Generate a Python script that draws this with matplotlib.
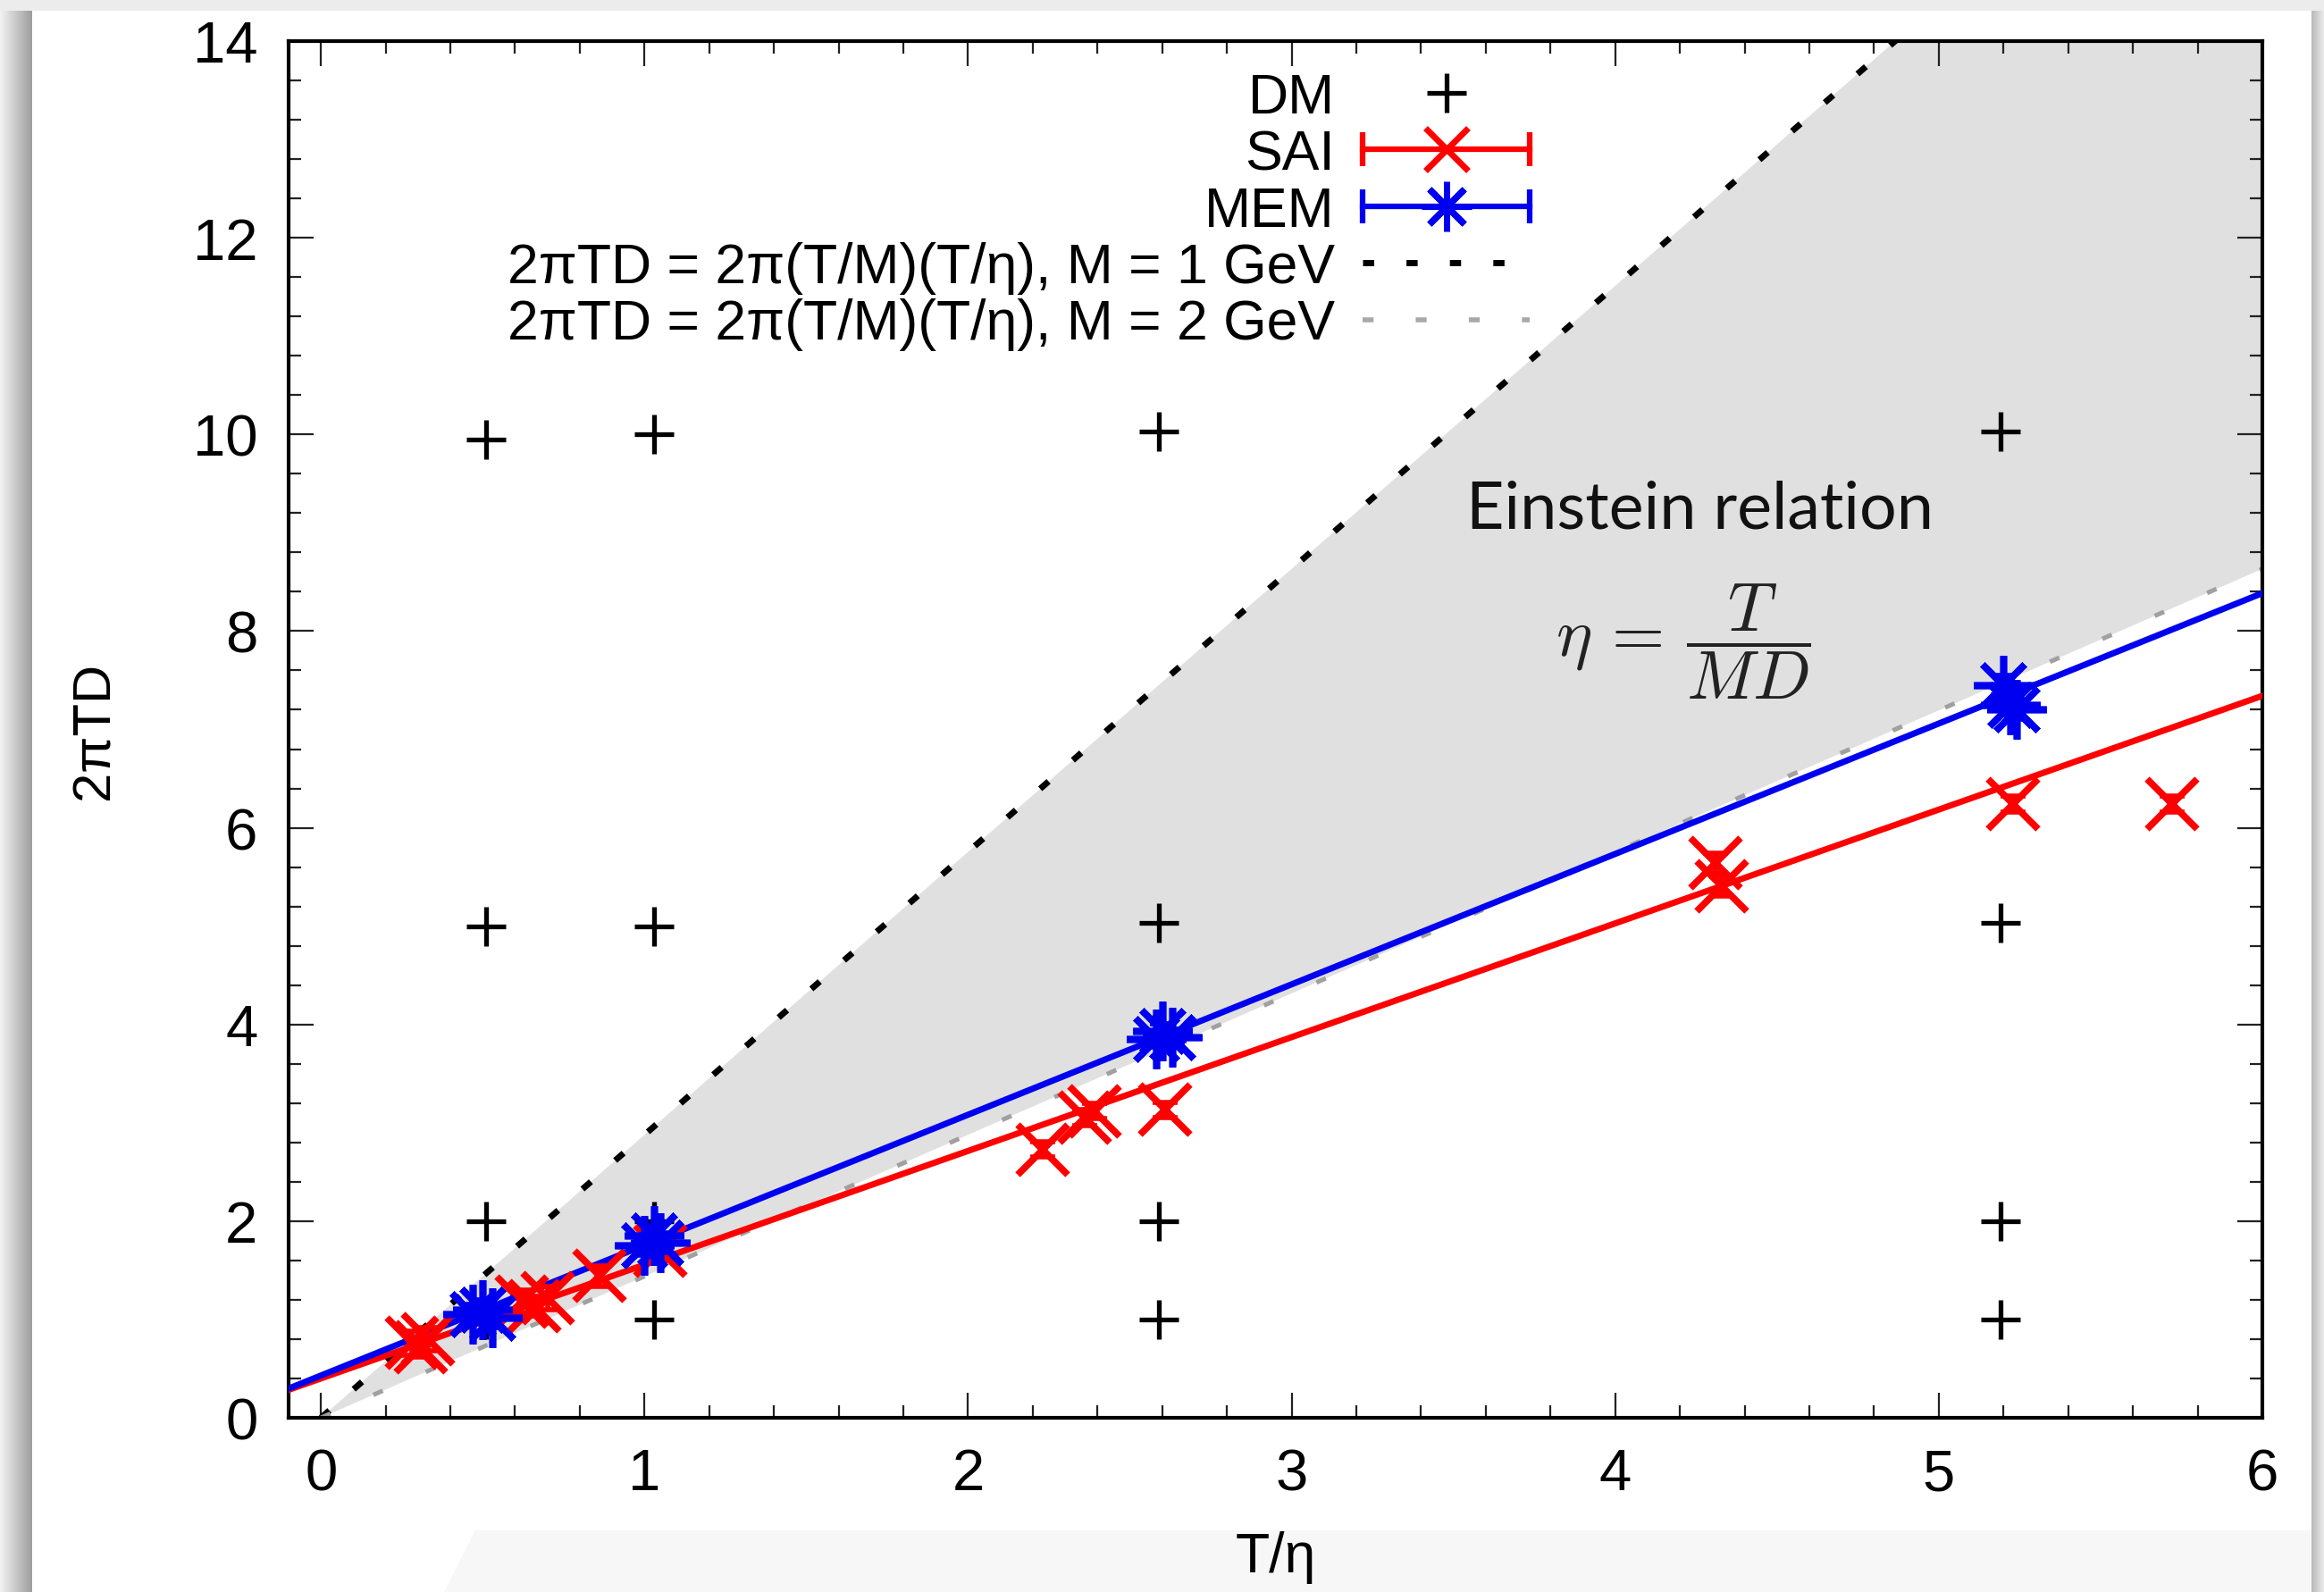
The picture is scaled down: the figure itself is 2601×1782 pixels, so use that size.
import numpy as np
import matplotlib
matplotlib.use("Agg")
import matplotlib.pyplot as plt
from matplotlib.lines import Line2D
from matplotlib.legend_handler import HandlerLine2D, HandlerTuple
from matplotlib.ticker import MultipleLocator
from matplotlib.patches import Rectangle, Polygon

plt.rcParams['font.family'] = ['Liberation Sans', 'DejaVu Sans']
plt.rcParams['mathtext.fontset'] = 'cm'

# ---------------- data ----------------
dm_x = [0.51, 1.03, 2.59, 5.19,
        0.51, 1.03, 2.59, 5.19,
        0.51, 1.03, 2.59, 5.19,
        0.51, 1.03, 2.59, 5.19]
dm_y = [9.95, 10.0, 10.03, 10.03,
        5.0, 5.0, 5.03, 5.03,
        2.0, 2.0, 2.0, 2.0,
        1.0, 1.0, 1.0, 1.0]

sai_x = [0.28, 0.31, 0.33, 0.62, 0.66, 0.70, 0.86, 1.05,
         2.23, 2.36, 2.39, 2.61, 4.31, 4.33, 5.23, 5.72]
sai_y = [0.76, 0.72, 0.80, 1.18, 1.14, 1.22, 1.44, 1.70,
         2.73, 3.05, 3.12, 3.13, 5.64, 5.41, 6.24, 6.24]
sai_err = [0.12, 0.10, 0.12, 0.12, 0.10, 0.12, 0.10, 0.10,
           0.08, 0.08, 0.08, 0.08, 0.10, 0.10, 0.08, 0.08]

mem_x = [0.47, 0.50, 0.53, 1.00, 1.03, 1.05,
         2.58, 2.60, 2.63, 5.20, 5.22, 5.24]
mem_y = [1.05, 1.10, 1.02, 1.75, 1.85, 1.78,
         3.85, 3.93, 3.87, 7.45, 7.25, 7.20]
mem_err = [0.10, 0.10, 0.10, 0.10, 0.10, 0.10,
           0.08, 0.08, 0.08, 0.10, 0.10, 0.10]

# linear fits (intercept, slope)
sai_fit = (0.40, 1.157)
mem_fit = (0.43, 1.326)

# Einstein relation: 2piTD = 2pi (T/M)(T/eta)
T_GeV = 0.458
M_GeV = [1.0, 2.0]

x_ticks = [0, 1, 2, 3, 4, 5, 6]
y_ticks = [0, 2, 4, 6, 8, 10, 12, 14]

legend_labels = ['DM', 'SAI', 'MEM',
                 r'2πTD = 2π(T/M)(T/η), M = 1 GeV',
                 r'2πTD = 2π(T/M)(T/η), M = 2 GeV']

# ---------------- figure ----------------
W, H = 2601, 1783
fig = plt.figure(figsize=(W / 100, H / 100), dpi=100)
fig.patch.set_facecolor('#ececec')

# white "card" with shadow edges
fig.patches.append(Rectangle((36 / W, 0), (2587 - 36) / W, 1 - 13 / H,
                             transform=fig.transFigure, facecolor='white',
                             edgecolor='none', zorder=-10))
fig.patches.append(Polygon([(497 / W, 0), (532 / W, 1 - 1714 / H),
                            (2587 / W, 1 - 1714 / H), (2587 / W, 0)],
                           closed=True, transform=fig.transFigure,
                           facecolor='#f7f7f7', edgecolor='none', zorder=-9))
sh = fig.add_axes([0, 0, 36 / W, 1 - 13 / H])
sh.imshow(np.linspace(0.95, 0.62, 50)[None, :], cmap='gray', vmin=0, vmax=1,
          aspect='auto', interpolation='bicubic')
sh.axis('off')
sh2 = fig.add_axes([2587 / W, 0, 14 / W, 1 - 13 / H])
sh2.imshow(np.linspace(0.72, 0.92, 20)[None, :], cmap='gray', vmin=0, vmax=1,
           aspect='auto', interpolation='bicubic')
sh2.axis('off')

ax = fig.add_axes([323 / W, 1 - 1588 / H, (2532 - 323) / W, (1588 - 47) / H])
ax.set_zorder(5)
ax.set_xlim(-0.1, 6)
ax.set_ylim(0, 14)

# shaded region between the two Einstein-relation lines
xs = np.linspace(0, 6, 200)
y_m1 = 2 * np.pi * (T_GeV / M_GeV[0]) * xs
y_m2 = 2 * np.pi * (T_GeV / M_GeV[1]) * xs
ax.fill_between(xs, y_m2, y_m1, color='#e0e0e0', lw=0, zorder=1)

# fits
xf = np.array([-0.1, 6.0])
ax.plot(xf, sai_fit[0] + sai_fit[1] * xf, color='#ff0000', lw=5.0, zorder=3)
ax.plot(xf, mem_fit[0] + mem_fit[1] * xf, color='#0000f0', lw=5.0, zorder=4)

# Einstein lines
ax.plot(xs, y_m1, color='black', lw=5.0, ls=(0, (1.8, 5.2)), zorder=2)
ax.plot(xs, y_m2, color='#a0a0a0', lw=3.6, ls=(0, (2.3, 10.5)), zorder=2)

# data
ax.plot(dm_x, dm_y, ls='none', marker='+', color='black', ms=31, mew=3.8, zorder=5)
ax.errorbar(sai_x, sai_y, yerr=sai_err, fmt='none', ecolor='#ff0000',
            elinewidth=4, capsize=10, capthick=4, zorder=6)
ax.plot(sai_x, sai_y, ls='none', marker='x', color='#ff0000', ms=40, mew=5.5, zorder=6)
ax.errorbar(mem_x, mem_y, yerr=mem_err, fmt='none', ecolor='#0000f0',
            elinewidth=4, capsize=10, capthick=4, zorder=7)
ax.plot(mem_x, mem_y, ls='none', marker=(8, 2, 0), color='#0000f0', ms=48, mew=5.5, zorder=7)

# annotations
ax.text(3.54, 9.05, 'Einstein relation', family=['Lato', 'DejaVu Sans'],
        fontsize=53, ha='left', va='baseline', color='#111111', zorder=8)
ax.text(4.21, 7.90, r'$\eta\,=\,\dfrac{T}{MD}$', fontsize=55, ha='center',
        va='center', color='#222222', zorder=8)

# axes styling
for s in ax.spines.values():
    s.set_linewidth(3.0)
ax.set_xticks(x_ticks)
ax.set_yticks(y_ticks)
ax.xaxis.set_minor_locator(MultipleLocator(0.2))
ax.yaxis.set_minor_locator(MultipleLocator(0.4))
ax.tick_params(which='both', direction='in', top=True, right=True, width=1.6,
               color='#222222')
ax.tick_params(which='major', length=20)
ax.tick_params(which='minor', length=10)
ax.tick_params(axis='x', which='major', labelsize=47, pad=24)
ax.tick_params(axis='y', which='major', labelsize=47, pad=25)

ax.set_xlabel('T/η', fontsize=45)
ax.xaxis.set_label_coords(0.5, -0.082)
ax.set_ylabel('2πTD', fontsize=43)
ax.yaxis.set_label_coords(-0.086, 0.5)

# legend (gnuplot style: text right-aligned, sample on the right)
h_dm = Line2D([], [], ls='none', marker='+', color='black', ms=31, mew=3.8)
h_sai_l = Line2D([], [], color='#ff0000', lw=4.5, marker='|', ms=28, mew=4.5)
h_sai_m = Line2D([], [], ls='none', marker='x', color='#ff0000', ms=34, mew=5)
h_mem_l = Line2D([], [], color='#0000f0', lw=4.5, marker='|', ms=28, mew=4.5)
h_mem_m = Line2D([], [], ls='none', marker=(8, 2, 0), color='#0000f0', ms=40, mew=5)
h_m1 = Line2D([], [], color='black', lw=5.0, ls=(0, (1.8, 5.2)))
h_m2 = Line2D([], [], color='#a8a8a8', lw=4.0, ls=(0, (2.2, 8.5)))
hmap = {h_sai_l: HandlerLine2D(numpoints=2, marker_pad=0),
        h_mem_l: HandlerLine2D(numpoints=2, marker_pad=0),
        tuple: HandlerTuple(ndivide=1)}
leg = ax.legend([h_dm, (h_sai_l, h_sai_m), (h_mem_l, h_mem_m), h_m1, h_m2],
                legend_labels, handler_map=hmap, numpoints=1, markerfirst=False,
                frameon=False, loc='upper right', bbox_to_anchor=(0.629, 0.978),
                borderpad=0, borderaxespad=0, handlelength=3.0, handletextpad=0.5,
                labelspacing=0.07, fontsize=45)
for col in leg._legend_handle_box.get_children():
    col.align = 'right'
leg.set_zorder(9)

fig.savefig('out.png', dpi=100, facecolor=fig.get_facecolor())
